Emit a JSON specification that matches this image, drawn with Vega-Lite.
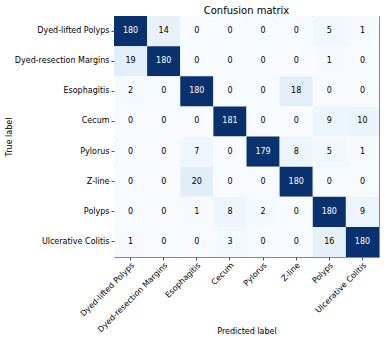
{
  "$schema": "https://vega.github.io/schema/vega-lite/v6.json",
  "autosize": "none",
  "width": 265,
  "height": 241,
  "padding": {"left": 114, "top": 16, "right": 12, "bottom": 82},
  "background": "white",
  "title": {"text": "Confusion matrix", "font": "DejaVu Sans", "fontSize": 10, "fontWeight": "normal", "color": "#000", "offset": 0},
  "data": {"values": [
    {"t": "Dyed-lifted Polyps", "p": "Dyed-lifted Polyps", "n": 180},
    {"t": "Dyed-lifted Polyps", "p": "Dyed-resection Margins", "n": 14},
    {"t": "Dyed-lifted Polyps", "p": "Esophagitis", "n": 0},
    {"t": "Dyed-lifted Polyps", "p": "Cecum", "n": 0},
    {"t": "Dyed-lifted Polyps", "p": "Pylorus", "n": 0},
    {"t": "Dyed-lifted Polyps", "p": "Z-line", "n": 0},
    {"t": "Dyed-lifted Polyps", "p": "Polyps", "n": 5},
    {"t": "Dyed-lifted Polyps", "p": "Ulcerative Colitis", "n": 1},
    {"t": "Dyed-resection Margins", "p": "Dyed-lifted Polyps", "n": 19},
    {"t": "Dyed-resection Margins", "p": "Dyed-resection Margins", "n": 180},
    {"t": "Dyed-resection Margins", "p": "Esophagitis", "n": 0},
    {"t": "Dyed-resection Margins", "p": "Cecum", "n": 0},
    {"t": "Dyed-resection Margins", "p": "Pylorus", "n": 0},
    {"t": "Dyed-resection Margins", "p": "Z-line", "n": 0},
    {"t": "Dyed-resection Margins", "p": "Polyps", "n": 1},
    {"t": "Dyed-resection Margins", "p": "Ulcerative Colitis", "n": 0},
    {"t": "Esophagitis", "p": "Dyed-lifted Polyps", "n": 2},
    {"t": "Esophagitis", "p": "Dyed-resection Margins", "n": 0},
    {"t": "Esophagitis", "p": "Esophagitis", "n": 180},
    {"t": "Esophagitis", "p": "Cecum", "n": 0},
    {"t": "Esophagitis", "p": "Pylorus", "n": 0},
    {"t": "Esophagitis", "p": "Z-line", "n": 18},
    {"t": "Esophagitis", "p": "Polyps", "n": 0},
    {"t": "Esophagitis", "p": "Ulcerative Colitis", "n": 0},
    {"t": "Cecum", "p": "Dyed-lifted Polyps", "n": 0},
    {"t": "Cecum", "p": "Dyed-resection Margins", "n": 0},
    {"t": "Cecum", "p": "Esophagitis", "n": 0},
    {"t": "Cecum", "p": "Cecum", "n": 181},
    {"t": "Cecum", "p": "Pylorus", "n": 0},
    {"t": "Cecum", "p": "Z-line", "n": 0},
    {"t": "Cecum", "p": "Polyps", "n": 9},
    {"t": "Cecum", "p": "Ulcerative Colitis", "n": 10},
    {"t": "Pylorus", "p": "Dyed-lifted Polyps", "n": 0},
    {"t": "Pylorus", "p": "Dyed-resection Margins", "n": 0},
    {"t": "Pylorus", "p": "Esophagitis", "n": 7},
    {"t": "Pylorus", "p": "Cecum", "n": 0},
    {"t": "Pylorus", "p": "Pylorus", "n": 179},
    {"t": "Pylorus", "p": "Z-line", "n": 8},
    {"t": "Pylorus", "p": "Polyps", "n": 5},
    {"t": "Pylorus", "p": "Ulcerative Colitis", "n": 1},
    {"t": "Z-line", "p": "Dyed-lifted Polyps", "n": 0},
    {"t": "Z-line", "p": "Dyed-resection Margins", "n": 0},
    {"t": "Z-line", "p": "Esophagitis", "n": 20},
    {"t": "Z-line", "p": "Cecum", "n": 0},
    {"t": "Z-line", "p": "Pylorus", "n": 0},
    {"t": "Z-line", "p": "Z-line", "n": 180},
    {"t": "Z-line", "p": "Polyps", "n": 0},
    {"t": "Z-line", "p": "Ulcerative Colitis", "n": 0},
    {"t": "Polyps", "p": "Dyed-lifted Polyps", "n": 0},
    {"t": "Polyps", "p": "Dyed-resection Margins", "n": 0},
    {"t": "Polyps", "p": "Esophagitis", "n": 1},
    {"t": "Polyps", "p": "Cecum", "n": 8},
    {"t": "Polyps", "p": "Pylorus", "n": 2},
    {"t": "Polyps", "p": "Z-line", "n": 0},
    {"t": "Polyps", "p": "Polyps", "n": 180},
    {"t": "Polyps", "p": "Ulcerative Colitis", "n": 9},
    {"t": "Ulcerative Colitis", "p": "Dyed-lifted Polyps", "n": 1},
    {"t": "Ulcerative Colitis", "p": "Dyed-resection Margins", "n": 0},
    {"t": "Ulcerative Colitis", "p": "Esophagitis", "n": 0},
    {"t": "Ulcerative Colitis", "p": "Cecum", "n": 3},
    {"t": "Ulcerative Colitis", "p": "Pylorus", "n": 0},
    {"t": "Ulcerative Colitis", "p": "Z-line", "n": 0},
    {"t": "Ulcerative Colitis", "p": "Polyps", "n": 16},
    {"t": "Ulcerative Colitis", "p": "Ulcerative Colitis", "n": 180}
  ]},
  "encoding": {
    "x": {"field": "p", "type": "nominal", "sort": ["Dyed-lifted Polyps", "Dyed-resection Margins", "Esophagitis", "Cecum", "Pylorus", "Z-line", "Polyps", "Ulcerative Colitis"],
      "scale": {"paddingInner": 0, "paddingOuter": 0},
      "axis": {"title": "Predicted label", "labelAngle": -45, "labelAlign": "right", "labelBaseline": "top", "labelPadding": 1, "titleY": 76, "titleBaseline": "alphabetic", "domain": false, "tickColor": "#555", "tickSize": 3}},
    "y": {"field": "t", "type": "nominal", "sort": ["Dyed-lifted Polyps", "Dyed-resection Margins", "Esophagitis", "Cecum", "Pylorus", "Z-line", "Polyps", "Ulcerative Colitis"],
      "scale": {"paddingInner": 0, "paddingOuter": 0},
      "axis": {"title": "True label", "labelPadding": 2, "titlePadding": 1, "domain": false, "tickColor": "#555", "tickSize": 3}}
  },
  "layer": [
    {"mark": {"type": "rect"},
     "encoding": {"color": {"field": "n", "type": "quantitative", "legend": null,
       "scale": {"domain": [0, 22.625, 45.25, 67.875, 90.5, 113.125, 135.75, 158.375, 181],
                 "range": ["#f7fbff", "#deebf7", "#c6dbef", "#9ecae1", "#6baed6", "#4292c6", "#2171b5", "#08519c", "#08306b"]}}}},
    {"mark": {"type": "text", "font": "DejaVu Sans", "fontSize": 8},
     "encoding": {"text": {"field": "n", "type": "quantitative"},
       "color": {"condition": {"test": "datum.n > 90.5", "value": "white"}, "value": "black"}}}
  ],
  "config": {
    "view": {"stroke": "#888", "strokeWidth": 1},
    "axis": {"labelFont": "DejaVu Sans", "labelFontSize": 8, "labelColor": "#000", "titleFont": "DejaVu Sans", "titleFontSize": 8, "titleFontWeight": "normal", "titleColor": "#000", "grid": false}
  }
}
